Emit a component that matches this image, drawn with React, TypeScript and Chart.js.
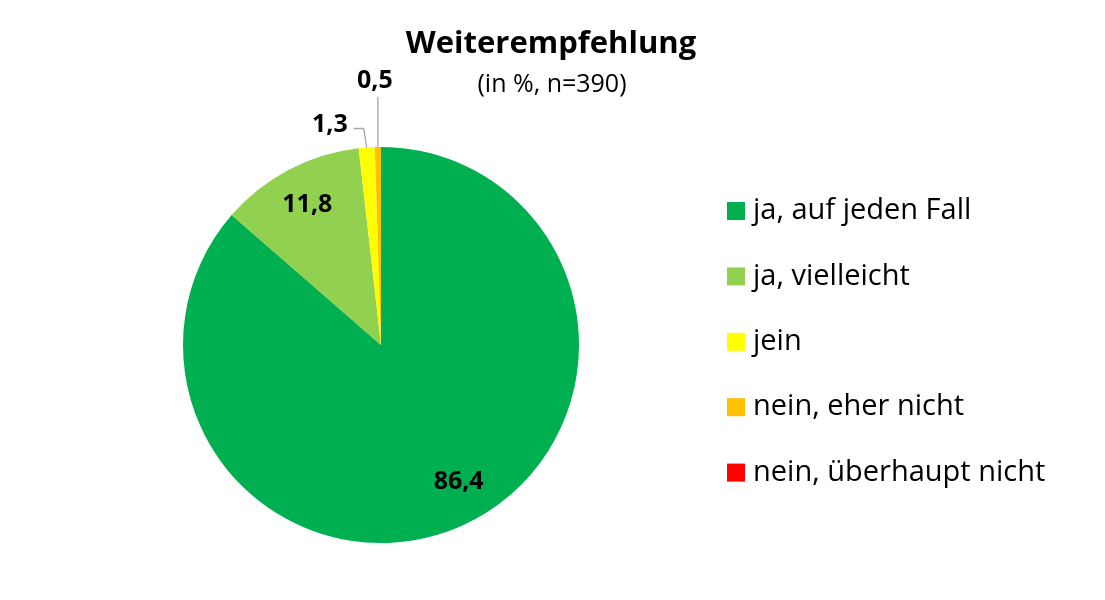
import React, { useEffect, useRef } from "react";
import { Chart, registerables } from "chart.js";

Chart.register(...registerables);

const categories = [
  "ja, auf jeden Fall",
  "ja, vielleicht",
  "jein",
  "nein, eher nicht",
  "nein, überhaupt nicht",
];
const values = [86.4, 11.8, 1.3, 0.5, 0];
const colors = ["#00B050", "#92D050", "#FFFF00", "#FFC000", "#FF0000"];
const titleText = "Weiterempfehlung";
const subtitleText = "(in %, n=390)";

const FONT = "'Open Sans', Lato, sans-serif";

// leader-line style per slice index (others: label inside slice)
const leaderStyle: Record<number, { elbowDx: number; elbowDy: number; endDx: number; textDx: number; textDy: number; align: CanvasTextAlign }> = {
  2: { elbowDx: -3, elbowDy: -19, endDx: -10, textDx: -6, textDy: -4, align: "right" },
  3: { elbowDx: 0, elbowDy: -50, endDx: 0, textDx: -3, textDy: -16, align: "center" },
};
// small nudges for inside labels
const insideNudge: Record<number, { dx: number; dy: number }> = {
  0: { dx: 12, dy: -7 },
};

const fmt = (v: number) => v.toFixed(1).replace(".", ",");

const decorPlugin = {
  id: "decor",
  afterDraw(chart: any) {
    const ctx: CanvasRenderingContext2D = chart.ctx;
    const meta = chart.getDatasetMeta(0);
    ctx.save();
    // title
    ctx.fillStyle = "#000";
    ctx.textAlign = "center";
    ctx.textBaseline = "alphabetic";
    ctx.font = `bold 31px ${FONT}`;
    ctx.fillText(titleText, 551, 53);
    ctx.font = `25px ${FONT}`;
    ctx.fillText(subtitleText, 552, 92);

    // data labels
    meta.data.forEach((arc: any, i: number) => {
      const v = values[i];
      if (!v) return;
      const { x, y, startAngle, endAngle, outerRadius } = arc.getProps(
        ["x", "y", "startAngle", "endAngle", "outerRadius"],
        true
      );
      const mid = (startAngle + endAngle) / 2;
      ctx.font = `bold 25px ${FONT}`;
      ctx.fillStyle = "#000";
      const ls = leaderStyle[i];
      if (!ls) {
        const r = outerRadius * 0.8;
        const n = insideNudge[i] || { dx: 0, dy: 0 };
        ctx.textAlign = "center";
        ctx.textBaseline = "middle";
        ctx.fillText(fmt(v), x + Math.cos(mid) * r + n.dx, y + Math.sin(mid) * r + n.dy);
      } else {
        const ax = x + Math.cos(mid) * outerRadius;
        const ay = y + Math.sin(mid) * outerRadius;
        const ex = ax + ls.elbowDx;
        const ey = ay + ls.elbowDy;
        const fx = ex + ls.endDx;
        ctx.strokeStyle = "#A6A6A6";
        ctx.lineWidth = 1.3;
        ctx.beginPath();
        ctx.moveTo(ax, ay);
        ctx.lineTo(ex, ey);
        if (ls.endDx) ctx.lineTo(fx, ey);
        ctx.stroke();
        ctx.textAlign = ls.align;
        ctx.textBaseline = "middle";
        ctx.fillText(fmt(v), fx + ls.textDx, ey + ls.textDy);
      }
    });

    // legend
    const labels: string[] = chart.data.labels;
    const bg: string[] = chart.data.datasets[0].backgroundColor;
    ctx.font = `29px ${FONT}`;
    ctx.textAlign = "left";
    ctx.textBaseline = "middle";
    labels.forEach((lab, i) => {
      const cy = 211 + i * 65.4;
      ctx.fillStyle = bg[i];
      ctx.fillRect(727, cy - 9, 18, 18);
      ctx.fillStyle = "#000";
      ctx.fillText(lab, 753, cy);
    });
    ctx.restore();
  },
};

export default function App() {
  const ref = useRef<HTMLCanvasElement>(null);
  useEffect(() => {
    if (!ref.current) return;
    const chart = new Chart(ref.current, {
      type: "pie",
      data: {
        labels: categories,
        datasets: [
          {
            data: values,
            backgroundColor: colors,
            borderWidth: 0,
          },
        ],
      },
      options: {
        responsive: false,
        animation: false,
        layout: { padding: { left: 183, right: 526, top: 147, bottom: 57 } },
        plugins: {
          legend: { display: false },
          title: { display: false },
          tooltip: { enabled: false },
        },
      },
      plugins: [decorPlugin],
    });
    return () => chart.destroy();
  }, []);
  return (
    <div style={{ position: "absolute", left: 0, top: 0, width: 1105, height: 600, background: "#fff" }}>
      <canvas ref={ref} width={1105} height={600} />
    </div>
  );
}
